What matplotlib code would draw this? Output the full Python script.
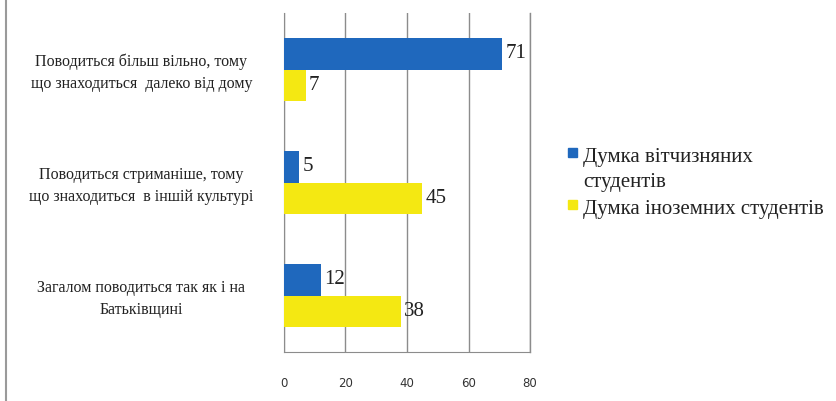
import matplotlib
matplotlib.use("Agg")
import matplotlib.pyplot as plt
import numpy as np
from matplotlib.patches import Rectangle
from matplotlib.lines import Line2D

categories = [
    "Поводиться більш вільно, тому\nщо знаходиться  далеко від дому",
    "Поводиться стриманіше, тому\nщо знаходиться  в іншій культурі",
    "Загалом поводиться так як і на\nБатьківщині",
]
series_names = ["Думка вітчизняних\nстудентів", "Думка іноземних студентів"]
domestic = [71, 5, 12]
foreign = [7, 45, 38]
xticks = [0, 20, 40, 60, 80]

blue = "#1f68bd"
yellow = "#f4e812"
grid_c = "#8c8c8c"

W, H = 837, 401
fig = plt.figure(figsize=(W/100, H/100), dpi=100)
ax = fig.add_axes([284/W, 1-352/H, (530-284)/W, (352-13)/H])

y = np.arange(len(categories))
h = 0.275
ax.barh(y - h/2, domestic, height=h, color=blue, zorder=3)
ax.barh(y + h/2, foreign, height=h, color=yellow, zorder=3)
ax.set_ylim(len(categories) - 0.5, -0.5)
ax.set_xlim(0, 80)

for yi, v in zip(y, domestic):
    ax.text(v + 1.0, yi - h/2, str(v), va="center", ha="left",
            fontsize=15, family="Liberation Serif", color="#222222")
for yi, v in zip(y, foreign):
    ax.text(v + 1.0, yi + h/2, str(v), va="center", ha="left",
            fontsize=15, family="Liberation Serif", color="#222222")

ax.set_xticks(xticks)
ax.set_xticklabels([str(t) for t in xticks], fontsize=8.5, family="DejaVu Sans", color="#333333")
ax.tick_params(axis="x", length=0, pad=18)
ax.set_yticks(y)
ax.set_yticklabels([])
ax.tick_params(axis="y", length=0)
for yi, lab in zip(y, categories):
    ax.text(-0.58, yi + 0.03, lab, transform=ax.get_yaxis_transform(), ha="center", va="center",
            multialignment="center", fontsize=11.5, family="Liberation Serif", color="#222222",
            linespacing=1.55)

ax.grid(axis="x", color=grid_c, linewidth=1, zorder=0)
ax.axvline(80, color=grid_c, linewidth=1, zorder=0, clip_on=False)
for s in ["top", "right"]:
    ax.spines[s].set_visible(False)
ax.spines["left"].set_color(grid_c)
ax.spines["bottom"].set_color(grid_c)

# left frame line of chart
fig.add_artist(Line2D([6/W, 6/W], [0, 1], color="#9a9a9a", linewidth=1.5, transform=fig.transFigure))

# legend (markers aligned with first text line, as in the reference)
leg_colors = [blue, yellow]
leg_first_line_y = [155, 207]
for col, name, ly in zip(leg_colors, series_names, leg_first_line_y):
    fig.add_artist(Rectangle((568/W, 1-(ly+2)/H), 9/W, 9/H, color=col, transform=fig.transFigure))
    fig.text(583/W, 1-(ly-7)/H, name, ha="left", va="top", fontsize=15,
             family="Liberation Serif", color="#222222", linespacing=1.45)

fig.savefig("out.png", dpi=100)
